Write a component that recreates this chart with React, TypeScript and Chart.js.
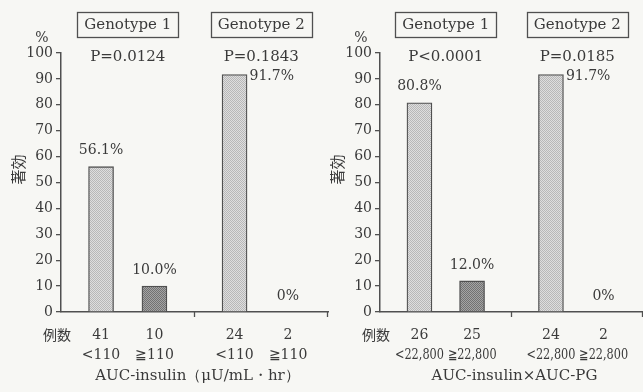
import React, { useEffect, useRef } from "react";
import { Chart, registerables } from "chart.js";

Chart.register(...registerables);

// ---- data ----
const genotypes = ["Genotype 1", "Genotype 2"];

const leftValues = [56.1, 10.0, 91.7, 0];
const leftValueLabels = ["56.1%", "10.0%", "91.7%", "0%"];
const leftCounts = ["41", "10", "24", "2"];
const leftGroups = ["<110", "≧110", "<110", "≧110"];
const leftPValues = ["P=0.0124", "P=0.1843"];
const leftTitle = "AUC-insulin（μU/mL・hr）";

const rightValues = [80.8, 12.0, 91.7, 0];
const rightValueLabels = ["80.8%", "12.0%", "91.7%", "0%"];
const rightCounts = ["26", "25", "24", "2"];
const rightGroups = ["<22,800", "≧22,800", "<22,800", "≧22,800"];
const rightPValues = ["P<0.0001", "P=0.0185"];
const rightTitle = "AUC-insulin×AUC-PG";

const yMin = 0;
const yMax = 100;
const yStep = 10;
const yUnit = "%";
const yTitle = "著効";
const countLabel = "例数";

// ---- layout / style ----
const SLOTS = [3, 7, 13, 17];
const X_MAX = 20;
const DIVIDER_TICKS = [10, 20];
const LABEL_PLACE = ["above", "above", "right", "above"];
const SERIF = '"DejaVu Serif", serif';
const CJK = '"Noto Sans CJK JP", sans-serif';
const TEXT = "#3a3a3a";
const LINE = "#505050";

function makePattern(base: string, dot: string) {
  const c = document.createElement("canvas");
  c.width = 2;
  c.height = 2;
  const g = c.getContext("2d")!;
  g.fillStyle = base;
  g.fillRect(0, 0, 2, 2);
  g.fillStyle = dot;
  g.fillRect(0, 0, 1, 1);
  g.fillRect(1, 1, 1, 1);
  return g.createPattern(c, "repeat");
}

type Spec = {
  values: number[];
  valueLabels: string[];
  counts: string[];
  groups: string[];
  pValues: string[];
  title: string;
  groupMaxWidth: number;
};

function Panel({
  spec,
  left,
  width,
  axisWidth,
  padRight,
}: {
  spec: Spec;
  left: number;
  width: number;
  axisWidth: number;
  padRight: number;
}) {
  const ref = useRef<HTMLCanvasElement>(null);
  useEffect(() => {
    const light = makePattern("#dedede", "#b8b8b8");
    const dark = makePattern("#a4a4a4", "#727272");

    const annot = {
      id: "annot",
      afterDraw(chart: any) {
        const ctx = chart.ctx as CanvasRenderingContext2D;
        const xs = chart.scales.x;
        const ys = chart.scales.y;
        const area = chart.chartArea;
        ctx.save();
        ctx.fillStyle = TEXT;
        ctx.strokeStyle = LINE;
        ctx.textBaseline = "middle";
        ctx.textAlign = "center";

        // divider ticks on baseline
        ctx.lineWidth = 1.3;
        DIVIDER_TICKS.forEach((v) => {
          const px = Math.round(xs.getPixelForValue(v)) - 0.5;
          ctx.beginPath();
          ctx.moveTo(px, area.bottom);
          ctx.lineTo(px, area.bottom + 5);
          ctx.stroke();
        });

        // genotype boxes and P values
        for (let g = 0; g < 2; g++) {
          const cx =
            (xs.getPixelForValue(SLOTS[2 * g]) + xs.getPixelForValue(SLOTS[2 * g + 1])) / 2;
          ctx.font = `15px ${SERIF}`;
          const w = ctx.measureText(genotypes[g]).width + 14;
          ctx.lineWidth = 1.3;
          ctx.strokeRect(Math.round(cx - w / 2) + 0.5, area.top - 41 + 0.5, Math.round(w), 25);
          ctx.fillText(genotypes[g], cx, area.top - 28);
          ctx.fillText(spec.pValues[g], cx, area.top + 4);
        }

        // % unit
        ctx.font = `14px ${SERIF}`;
        ctx.fillText(yUnit, area.left - 19, area.top - 15);

        // y title (rotated)
        ctx.save();
        ctx.font = `15px ${CJK}`;
        ctx.translate(area.left - 43, ys.getPixelForValue(55));
        ctx.rotate(-Math.PI / 2);
        ctx.fillText(yTitle, 0, 0);
        ctx.restore();

        // value labels
        ctx.font = `14px ${SERIF}`;
        spec.values.forEach((v, i) => {
          const bx = xs.getPixelForValue(SLOTS[i]);
          const top = ys.getPixelForValue(v);
          if (LABEL_PLACE[i] === "right") {
            ctx.textAlign = "left";
            ctx.fillText(spec.valueLabels[i], bx + 15, top + 2);
            ctx.textAlign = "center";
          } else {
            ctx.fillText(spec.valueLabels[i], bx, top - 16);
          }
        });

        // bottom labels
        ctx.font = `14px ${CJK}`;
        ctx.fillText(countLabel, area.left - 4, area.bottom + 23);
        ctx.font = `14px ${SERIF}`;
        spec.counts.forEach((c, i) => {
          ctx.fillText(c, xs.getPixelForValue(SLOTS[i]), area.bottom + 23);
        });
        spec.groups.forEach((c, i) => {
          ctx.fillText(c, xs.getPixelForValue(SLOTS[i]), area.bottom + 43, spec.groupMaxWidth);
        });
        ctx.font = `15px ${SERIF}`;
        ctx.fillText(spec.title, (area.left + area.right) / 2 + 3, area.bottom + 64);
        ctx.restore();
      },
    };

    const chart = new Chart(ref.current!, {
      type: "bar",
      data: {
        datasets: [
          {
            data: spec.values.map((v, i) => ({ x: SLOTS[i], y: v })),
            backgroundColor: (c: any) => (c.dataIndex === 1 ? dark : light),
            borderColor: LINE,
            borderWidth: 1.3,
            barThickness: 25,
          } as any,
        ],
      },
      options: {
        responsive: false,
        animation: false,
        events: [],
        layout: { padding: { top: 53, right: padRight, left: 0, bottom: 0 } },
        plugins: { legend: { display: false }, tooltip: { enabled: false } },
        scales: {
          x: {
            type: "linear",
            offset: false,
            min: 0,
            max: X_MAX,
            grid: { display: false, offset: false },
            ticks: { display: false },
            border: { display: true, color: LINE, width: 1.5 },
            afterFit: (s: any) => {
              s.height = 80;
            },
          },
          y: {
            min: yMin,
            max: yMax,
            ticks: {
              stepSize: yStep,
              font: { family: SERIF, size: 14 },
              color: TEXT,
              padding: 3,
            },
            grid: { drawOnChartArea: false, tickLength: 5, color: LINE, lineWidth: 1.3 },
            border: { display: true, color: LINE, width: 1.5 },
            afterFit: (s: any) => {
              s.width = axisWidth;
            },
          },
        },
      } as any,
      plugins: [annot],
    });
    return () => chart.destroy();
  }, []);

  return (
    <canvas
      ref={ref}
      width={width}
      height={392}
      style={{ position: "absolute", left, top: 0, width, height: 392 }}
    />
  );
}

export default function App() {
  const leftSpec: Spec = {
    values: leftValues,
    valueLabels: leftValueLabels,
    counts: leftCounts,
    groups: leftGroups,
    pValues: leftPValues,
    title: leftTitle,
    groupMaxWidth: 60,
  };
  const rightSpec: Spec = {
    values: rightValues,
    valueLabels: rightValueLabels,
    counts: rightCounts,
    groups: rightGroups,
    pValues: rightPValues,
    title: rightTitle,
    groupMaxWidth: 49,
  };
  return (
    <div
      style={{
        position: "absolute",
        left: 0,
        top: 0,
        width: 643,
        height: 392,
        background: "#f7f7f4",
        overflow: "hidden",
      }}
    >
      <Panel spec={leftSpec} left={0} width={330} axisWidth={61} padRight={2} />
      <Panel spec={rightSpec} left={320} width={323} axisWidth={60} padRight={0} />
    </div>
  );
}
